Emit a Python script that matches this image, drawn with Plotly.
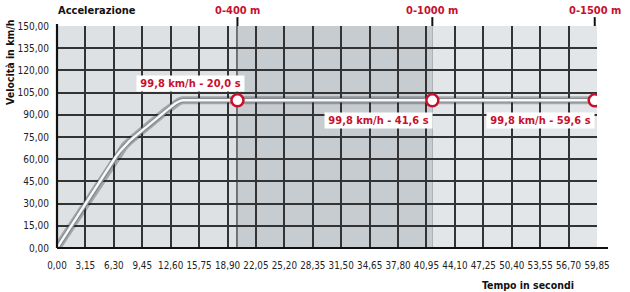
import plotly.graph_objects as go

# Data
time_s = [0, 1, 2, 3, 4, 5, 6, 6.5, 7, 7.5, 8, 8.5, 9, 10, 11, 12, 12.6, 13.1, 13.5, 13.9, 20.0, 41.6, 59.6]
speed = [0, 9.5, 19, 28.5, 38, 47.5, 57, 61.5, 65.5, 69, 72, 74.8, 77.2, 82, 87.2, 92.3, 95.3, 97.6, 99, 99.8,
         99.8, 99.8, 99.8]
mark_t = [20.0, 41.6, 59.6]
mark_v = [99.8, 99.8, 99.8]
mark_names = ["0-400 m", "0-1000 m", "0-1500 m"]
mark_labels = ["99,8 km/h - 20,0 s", "99,8 km/h - 41,6 s", "99,8 km/h - 59,6 s"]
x_ticks = [round(3.15 * i, 2) for i in range(20)]
x_ticktext = [f"{v:.2f}".replace(".", ",") for v in x_ticks]
y_ticks = [15 * i for i in range(11)]
y_ticktext = [f"{v:.2f}".replace(".", ",") for v in y_ticks]

RED = "#c8102e"
FONT = "DejaVu Sans Condensed, Roboto, Arial"

W, H = 630, 292
L, R, T, B = 57, 597, 26, 248


def px(x):
    return (x - L) / (R - L)


def py(y):
    return (B - y) / (B - T)


fig = go.Figure()

# curve: shadow + tube + highlight
fig.add_trace(go.Scatter(x=time_s, y=speed, mode="lines",
                         line=dict(color="rgba(30,30,30,0.30)", width=8),
                         hoverinfo="skip", showlegend=False))
fig.add_trace(go.Scatter(x=time_s, y=speed, mode="lines",
                         line=dict(color="#858b8f", width=4.6),
                         hoverinfo="skip", showlegend=False))
fig.add_trace(go.Scatter(x=time_s, y=speed, mode="lines",
                         line=dict(color="#f7f8f9", width=2.4),
                         hoverinfo="skip", showlegend=False))
fig.add_trace(go.Scatter(x=mark_t, y=mark_v, mode="markers",
                         marker=dict(size=12, color="white", line=dict(color=RED, width=2.5)),
                         showlegend=False))

shapes = []
# middle darker band
shapes.append(dict(type="rect", xref="x", yref="y", x0=mark_t[0], x1=mark_t[1], y0=0, y1=150,
                   fillcolor="#c7ccd0", line=dict(width=0), layer="below"))
# right lighter band
shapes.append(dict(type="rect", xref="x", yref="y", x0=mark_t[1], x1=x_ticks[-1], y0=0, y1=150,
                   fillcolor="#e3e6e8", line=dict(width=0), layer="below"))
# vertical milestone lines
for t in mark_t:
    shapes.append(dict(type="line", xref="x", yref="paper", x0=t, x1=t, y0=0, y1=1.04,
                       line=dict(color="#111111", width=2), layer="below"))
# axis lines
shapes.append(dict(type="line", xref="paper", yref="paper", x0=0, x1=px(608), y0=0, y1=0,
                   line=dict(color="#111111", width=2.2)))
shapes.append(dict(type="line", xref="paper", yref="paper", x0=0, x1=0, y0=0, y1=py(24),
                   line=dict(color="#111111", width=2.2)))

annotations = []
annotations.append(dict(text="<b>Accelerazione</b>", xref="paper", yref="paper", x=px(56), y=py(10),
                        xanchor="left", yanchor="middle", showarrow=False,
                        font=dict(family=FONT, size=11, color="#111111")))
annotations.append(dict(text="<b>Velocità in km/h</b>", xref="paper", yref="paper", x=px(10), y=py(63),
                        xanchor="center", yanchor="middle", textangle=-90, showarrow=False,
                        font=dict(family=FONT, size=10.5, color="#111111")))
annotations.append(dict(text="<b>Tempo in secondi</b>", xref="paper", yref="paper", x=px(528), y=py(285),
                        xanchor="center", yanchor="middle", showarrow=False,
                        font=dict(family=FONT, size=10.5, color="#111111")))
for t, name in zip(mark_t, mark_names):
    annotations.append(dict(text=f"<b>{name}</b>", xref="x", yref="paper", x=t, y=py(10),
                            xanchor="center", yanchor="middle", showarrow=False,
                            font=dict(family=FONT, size=11, color=RED)))
label_pos = [(190, 83), (378, 120), (540, 120)]
for (lx, ly), lab in zip(label_pos, mark_labels):
    annotations.append(dict(text=f"<b>{lab}</b>", xref="paper", yref="paper", x=px(lx), y=py(ly),
                            xanchor="center", yanchor="middle", showarrow=False,
                            bgcolor="white", borderpad=1, width=105,
                            font=dict(family=FONT, size=11, color=RED)))

fig.update_layout(
    width=W, height=H,
    margin=dict(l=L, r=W - R, t=T, b=H - B, autoexpand=False),
    paper_bgcolor="white",
    plot_bgcolor="#dde1e4",
    shapes=shapes, annotations=annotations,
    showlegend=False,
    font=dict(family=FONT, size=10, color="#222222"),
)
fig.update_xaxes(range=[0, x_ticks[-1]], tickvals=x_ticks, ticktext=x_ticktext,
                 showgrid=True, gridcolor="#333333", gridwidth=1.5, zeroline=False,
                 showline=False, ticks="", ticklabelstandoff=10, tickangle=0, automargin=False,
                 tickfont=dict(family=FONT, size=9.8, color="#222222"))
fig.update_yaxes(range=[0, 150], tickvals=y_ticks, ticktext=y_ticktext,
                 showgrid=True, gridcolor="#333333", gridwidth=1.5, zeroline=False,
                 showline=False, ticks="", ticklabelstandoff=7, automargin=False,
                 tickfont=dict(family=FONT, size=10, color="#222222"))

fig.write_html("out.html")
